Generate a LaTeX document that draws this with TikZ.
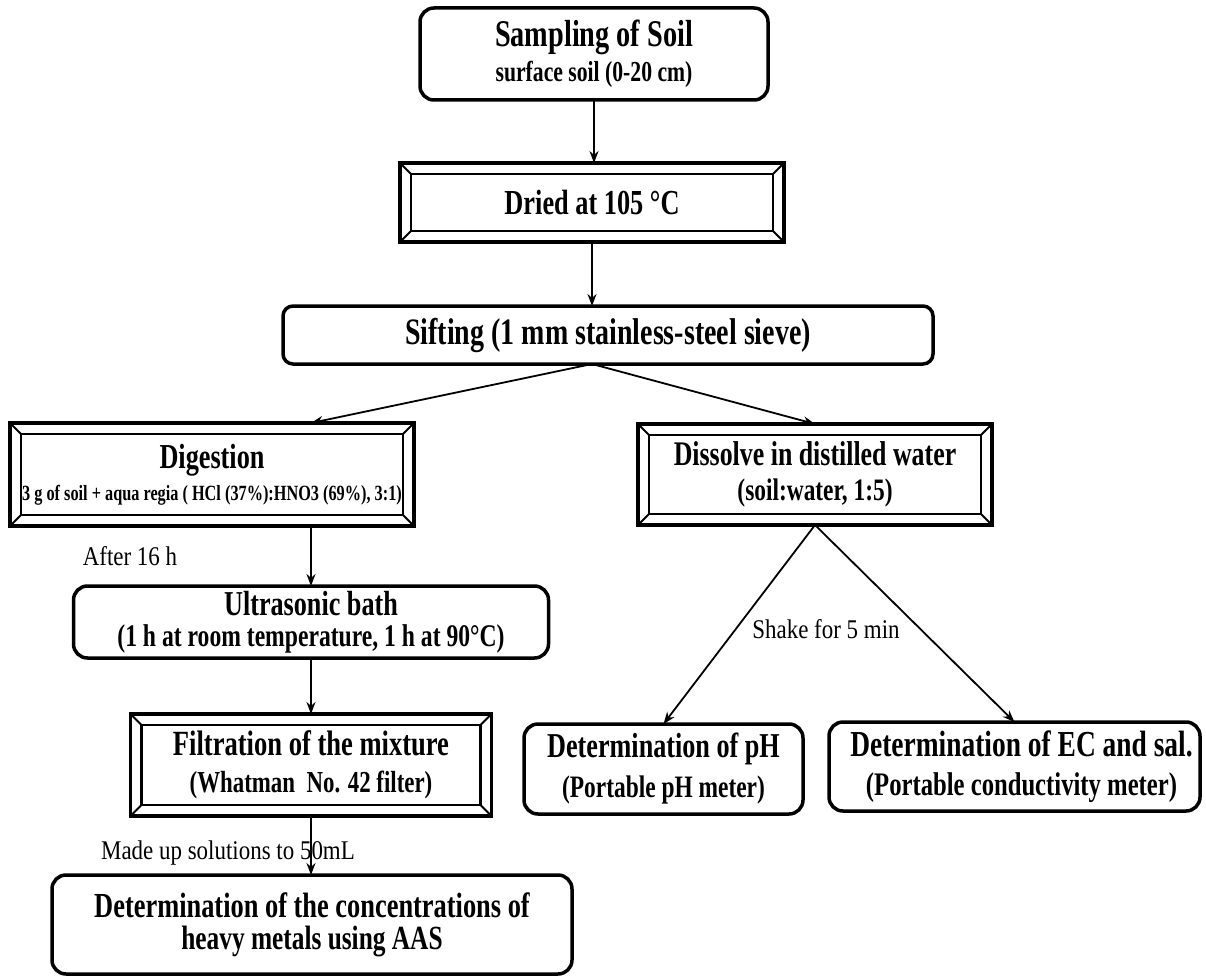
\documentclass[tikz,border=0pt]{standalone}
\usepackage{fontspec}
\setmainfont{Liberation Serif}
\newfontfamily\bfc[FakeStretch=0.75]{Liberation Serif}
\newfontfamily\rgc[FakeStretch=0.85]{Liberation Serif}
\usetikzlibrary{arrows.meta}
\newcommand\fs[2]{{\fontsize{#1}{#1}\selectfont #2}}
\newcommand\twol[5]{\vbox{\baselineskip=#5pt\lineskiplimit=-1000pt\lineskip=0pt\halign{\hfil##\hfil\cr\fs{#1}{#2}\cr\fs{#3}{#4}\cr}}}
\tikzset{
 rbox/.style={draw, line width=3.5pt, rounded corners=14pt, inner sep=0pt, outer sep=0pt, font=\bfc\bfseries},
 bbox/.style={draw, line width=3.8pt, inner sep=0pt, outer sep=0pt, font=\bfc\bfseries},
 bevelin/.style={line width=2.4pt},
 arr/.style={line width=1.8pt, -{Stealth[length=12pt,width=9pt]}},
 lbl/.style={font=\rgc\fontsize{27}{27}\selectfont, inner sep=0pt},
}
\newcommand\bevelbox[1]{%
 \coordinate (#1-nw) at ([shift={(11pt,-11pt)}]#1.north west);
 \coordinate (#1-ne) at ([shift={(-11pt,-11pt)}]#1.north east);
 \coordinate (#1-sw) at ([shift={(11pt,11pt)}]#1.south west);
 \coordinate (#1-se) at ([shift={(-11pt,11pt)}]#1.south east);
 \draw[bevelin] (#1-nw) -- (#1-ne) -- (#1-se) -- (#1-sw) -- cycle;
 \draw[line width=2pt] (#1.north west) -- (#1-nw) (#1.north east) -- (#1-ne) (#1.south west) -- (#1-sw) (#1.south east) -- (#1-se);
}
\begin{document}
\begin{tikzpicture}[x=1pt,y=-1pt]
\fill[white] (0,0) rectangle (1206,976);
\useasboundingbox (0,0) rectangle (1206,976);

\node[rbox, minimum width=348pt, minimum height=92pt] (samp) at (594,54)
 {\twol{37.7}{Sampling of Soil}{28.9}{surface soil (0-20 cm)}{35}};

\node[bbox, minimum width=384pt, minimum height=79pt] (dried) at (592,202.5)
 {\fs{35.1}{Dried at 105 °C}};
\bevelbox{dried}

\node[rbox, rounded corners=10pt, minimum width=650pt, minimum height=58pt] (sift) at (608,335)
 {\fs{37.3}{Sifting (1 mm stainless-steel sieve)}};

\node[bbox, minimum width=404pt, minimum height=103pt] (dig) at (212,474.5)
 {\twol{35}{Digestion}{21.7}{3 g of soil + aqua regia ( HCl (37\%):HNO3 (69\%), 3:1)}{32}};
\bevelbox{dig}

\node[bbox, minimum width=354pt, minimum height=101pt] (diss) at (815,474.5)
 {\twol{34.5}{Dissolve in distilled water}{31.2}{(soil:water, 1:5)}{35}};
\bevelbox{diss}

\node[rbox, minimum width=475pt, minimum height=72pt] (ultra) at (311,622)
 {\twol{34.9}{Ultrasonic bath}{31.5}{(1 h at room temperature, 1 h at 90°C)}{31}};

\node[bbox, minimum width=361pt, minimum height=102pt] (filt) at (311,765)
 {\twol{35.4}{Filtration of the mixture}{30.5}{(Whatman\ \ No. 42 filter)}{37}};
\bevelbox{filt}

\node[rbox, minimum width=520pt, minimum height=99pt] (conc) at (312,924.5)
 {\twol{35.2}{Determination of the concentrations of}{33.8}{heavy metals using AAS}{32}};

\node[rbox, minimum width=279pt, minimum height=90pt] (ph) at (663.5,769)
 {\twol{34.9}{Determination of pH}{31.2}{(Portable pH meter)}{40}};

\node[rbox, minimum width=371pt, minimum height=89pt] (ec) at (1014.5,766.5)
 {\twol{36.6}{\kern14pt Determination of EC and sal.}{32.9}{\kern14pt (Portable conductivity meter)}{39}};

\node[lbl] (l1) at (130,556) {After 16 h};
\node[lbl] (l2) at (826,629) {Shake for 5 min};
\node[lbl] (l3) at (228,853) {Made up solutions to 50mL};

\draw[arr] (samp.south) -- (samp.south |- dried.north);
\draw[arr] (dried.south) -- (dried.south |- sift.north);
\coordinate (sp) at (dried.south |- sift.south);
\draw[arr] (sp) -- (dig.north -| ultra.north);
\draw[arr] (sp) -- (diss.north);
\draw[arr] (dig.south -| ultra.north) -- (ultra.north);
\draw[arr] (diss.south) -- (ph.north);
\draw[arr] (diss.south) -- (ec.north);
\draw[arr] (ultra.south) -- (filt.north);
\draw[arr] (filt.south) -- (filt.south |- conc.north);
\end{tikzpicture}
\end{document}
